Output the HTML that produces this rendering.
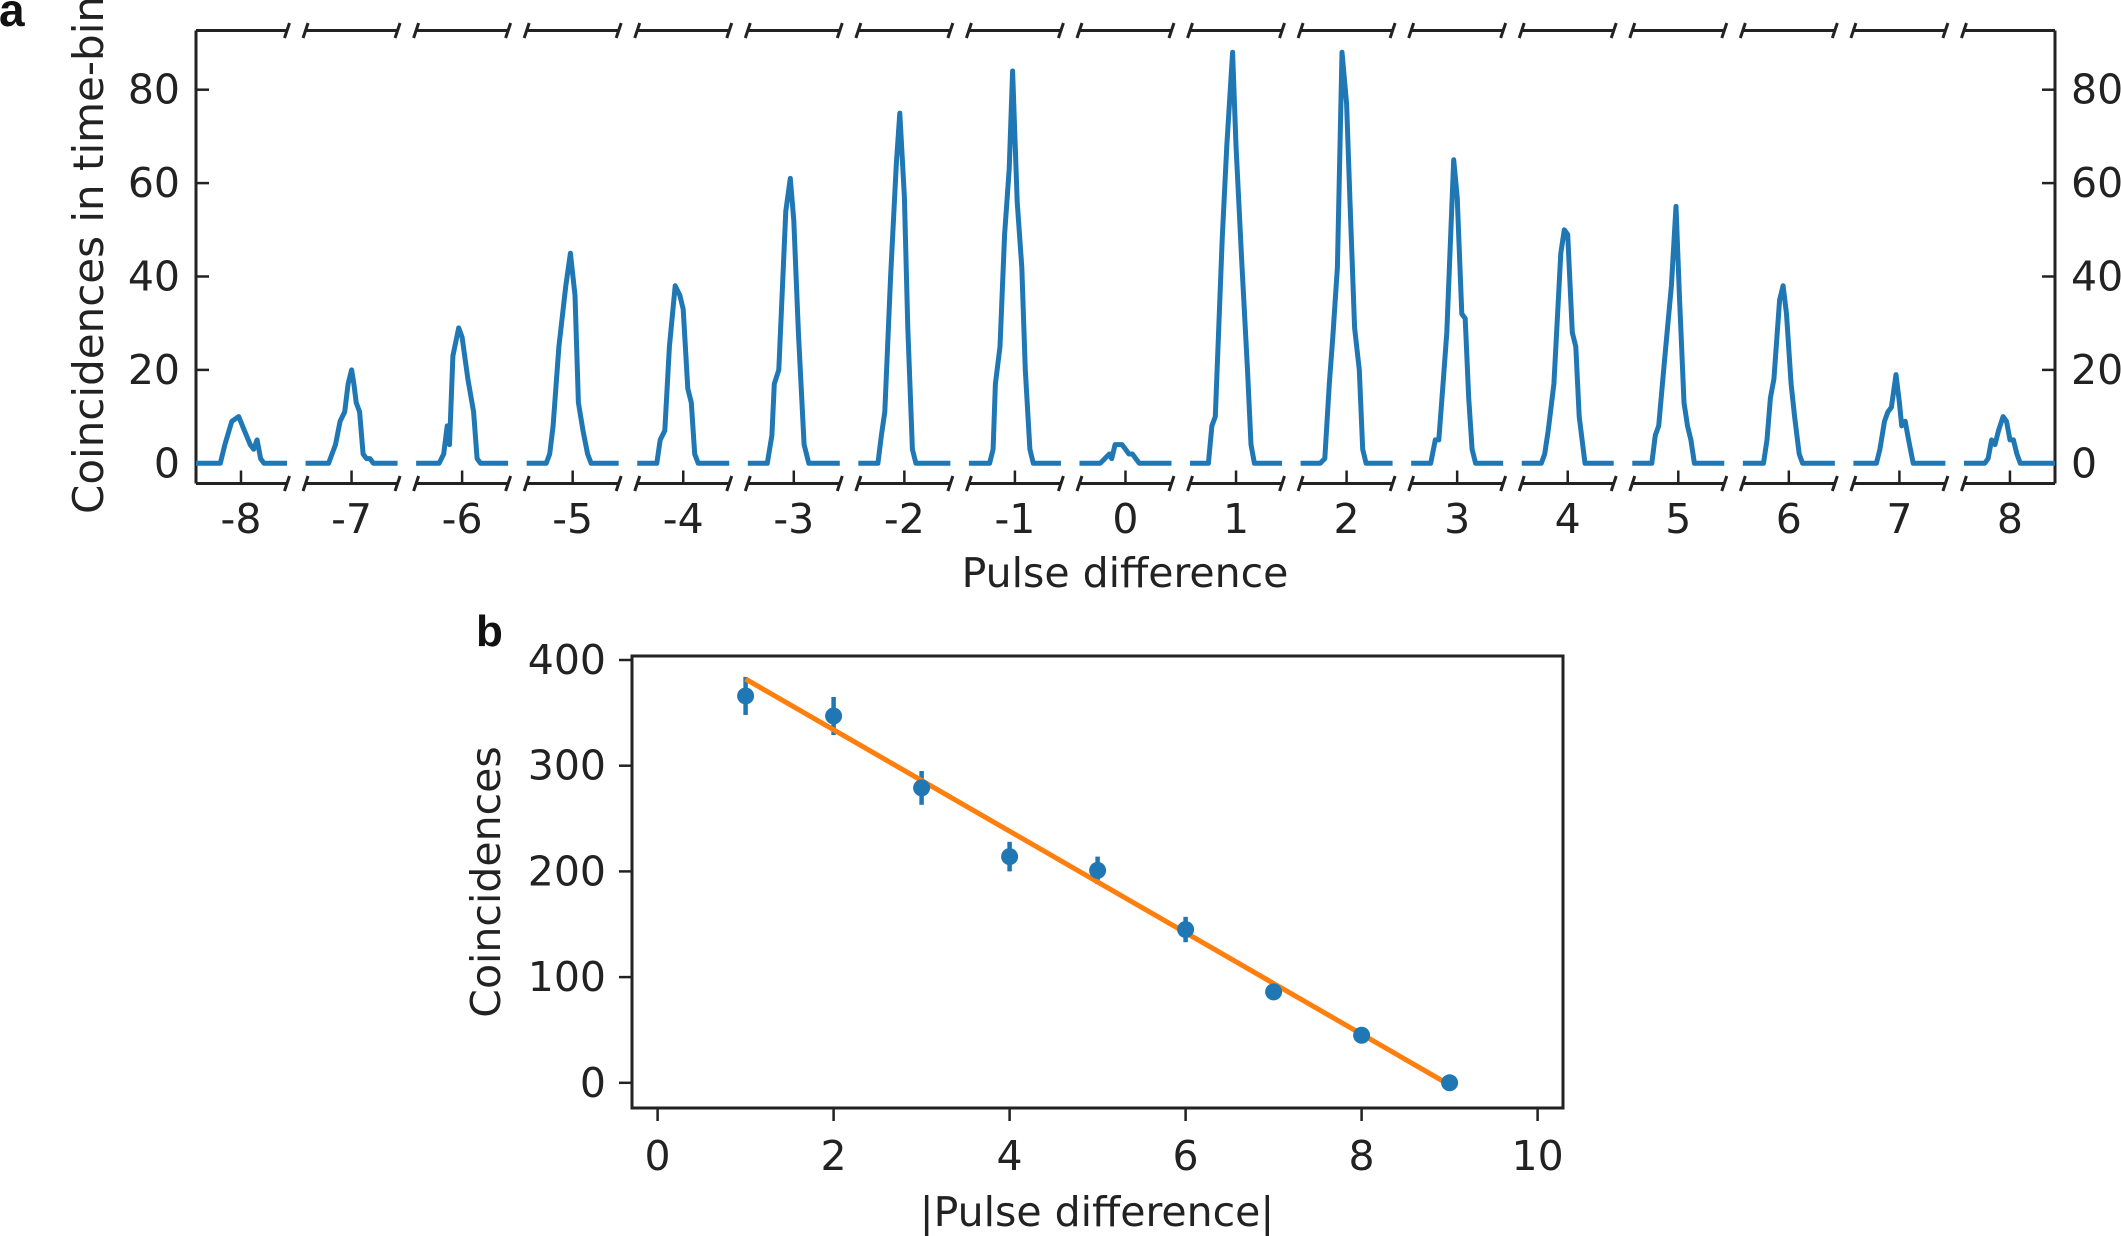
<!DOCTYPE html>
<html><head><meta charset="utf-8">
<style>
html,body{margin:0;padding:0;background:#fff;}
svg{display:block;font-family:"DejaVu Sans","Liberation Sans",sans-serif;}
</style></head>
<body>
<svg id="s" width="2121" height="1236" viewBox="0 0 2121 1236" xmlns="http://www.w3.org/2000/svg">
<rect width="2121" height="1236" fill="#fff"/>
<g id="a"></g>
<text x="-1" y="26" font-size="46" font-weight="bold" fill="#111" font-family="Liberation Sans, sans-serif">a</text>
<text transform="translate(103,255) rotate(-90)" text-anchor="middle" font-size="42" fill="#222">Coincidences in time-bin</text>
<text x="1125" y="587" text-anchor="middle" font-size="41" fill="#222">Pulse difference</text>
<!-- panel b -->
<text x="476" y="646" font-size="44" font-weight="bold" fill="#111" font-family="Liberation Sans, sans-serif">b</text>
<text transform="translate(500,882) rotate(-90)" text-anchor="middle" font-size="41" fill="#222">Coincidences</text>
<text x="1097" y="1226" text-anchor="middle" font-size="41" fill="#222">|Pulse difference|</text>
<g id="b"></g>
</svg>
<script>
(function(){
var NS="http://www.w3.org/2000/svg";
function el(p,t,a,txt){var e=document.createElementNS(NS,t);for(var k in a)e.setAttribute(k,a[k]);if(txt!==undefined)e.textContent=txt;p.appendChild(e);return e;}
var A=document.getElementById('a');
var L=196,R=2055,T=30.5,B=483.5;
function Y(v){return 463.3-v*4.67;}
function C(k){return 241+(k+8)*110.56;}
var stroke="#222";
el(A,'line',{x1:L,y1:T,x2:L,y2:B,stroke:stroke,'stroke-width':3});
el(A,'line',{x1:R,y1:T,x2:R,y2:B,stroke:stroke,'stroke-width':3});
for(var k=-8;k<=8;k++){
  var c=C(k),x0=c-46,x1=c+46;
  if(k==-8)x0=L; if(k==8)x1=R;
  [T,B].forEach(function(y){
    el(A,'line',{x1:x0,y1:y,x2:x1,y2:y,stroke:stroke,'stroke-width':3});
    if(k!=-8)el(A,'line',{x1:x0-2.5,y1:y+7.5,x2:x0+2.5,y2:y-7.5,stroke:stroke,'stroke-width':3});
    if(k!=8)el(A,'line',{x1:x1-2.5,y1:y+7.5,x2:x1+2.5,y2:y-7.5,stroke:stroke,'stroke-width':3});
  });
  el(A,'line',{x1:c,y1:B,x2:c,y2:B-13,stroke:stroke,'stroke-width':2.5});
  el(A,'text',{x:c,y:533,'text-anchor':'middle','font-size':41,fill:'#222'},String(k));
}
[0,20,40,60,80].forEach(function(v){
  var y=Y(v);
  el(A,'line',{x1:L,y1:y,x2:L+13,y2:y,stroke:stroke,'stroke-width':2.5});
  el(A,'line',{x1:R,y1:y,x2:R-13,y2:y,stroke:stroke,'stroke-width':2.5});
  el(A,'text',{x:180,y:y+14,'text-anchor':'end','font-size':41,fill:'#222'},String(v));
  el(A,'text',{x:2071,y:y+14,'text-anchor':'start','font-size':41,fill:'#222'},String(v));
});
var P={
'-8':[[-18,0],[-14,4],[-8,9],[-2,10],[3,7],[8,4],[11,3],[14,5],[17,1],[20,0]],
'-7':[[-20,0],[-14,4],[-10,9],[-6,11],[-3,17],[0,20],[2,17],[4,13],[7,11],[10,2],[13,1],[16,1],[19,0]],
'-6':[[-20,0],[-16,2],[-13,8],[-11,4],[-8,23],[-3,29],[0,27],[5,18],[10,11],[13,1],[16,0]],
'-5':[[-23,0],[-20,2],[-17,8],[-12,25],[-6,38],[-2,45],[2,36],[5,13],[9,7],[13,2],[16,0]],
'-4':[[-23,0],[-20,5],[-16,7],[-12,25],[-7,38],[-3,36],[0,33],[4,16],[7,13],[10,2],[13,0]],
'-3':[[-23,0],[-19,6],[-17,17],[-13,20],[-7,54],[-3,61],[0,52],[4,28],[9,4],[13,0]],
'-2':[[-23,0],[-20,6],[-17,11],[-12,40],[-7,64],[-4,75],[0,57],[3,29],[7,3],[10,0]],
'-1':[[-22,0],[-19,3],[-17,17],[-13,25],[-9,49],[-5,63],[-2,84],[2,56],[6,42],[9,20],[13,3],[16,0]],
'0':[[-22,0],[-18,1],[-14,2],[-12,1],[-9,4],[-3,4],[0,3],[3,2],[6,2],[9,1],[12,0]],
'1':[[-24,0],[-21,8],[-18,10],[-12,48],[-8,68],[-3,88],[0,68],[5,43],[10,20],[13,4],[16,0]],
'2':[[-23,0],[-19,1],[-15,17],[-12,27],[-8,42],[-4,88],[0,77],[3,56],[7,29],[11,20],[14,3],[17,0]],
'3':[[-23,0],[-19,5],[-16,5],[-12,18],[-9,28],[-3,65],[0,57],[4,32],[7,31],[10,14],[13,3],[16,0]],
'4':[[-23,0],[-20,2],[-17,7],[-12,17],[-6,45],[-3,50],[0,49],[4,28],[7,25],[10,10],[15,0]],
'5':[[-23,0],[-20,6],[-17,8],[-12,22],[-6,38],[-2,55],[1,36],[5,13],[8,8],[11,5],[14,0]],
'6':[[-22,0],[-19,5],[-16,14],[-13,18],[-8,35],[-5,38],[-2,32],[2,17],[5,10],[9,2],[12,0]],
'7':[[-20,0],[-17,3],[-13,9],[-10,11],[-7,12],[-3,19],[0,13],[2,8],[5,9],[8,5],[12,0]],
'8':[[-22,0],[-19,1],[-16,5],[-13,4],[-10,7],[-6,10],[-3,9],[0,5],[3,5],[6,2],[9,0]]
};
for(var k=-8;k<=8;k++){
  var c=C(k),x0=c-46,x1=c+46; if(k==-8)x0=L; if(k==8)x1=R;
  var d='M'+x0+','+Y(0);
  P[String(k)].forEach(function(p){d+=' L'+(c+p[0]*1.15).toFixed(1)+','+Y(p[1]).toFixed(1);});
  d+=' L'+x1+','+Y(0);
  el(A,'path',{d:d,fill:'none',stroke:'#1f77b4','stroke-width':5,'stroke-linejoin':'round'});
}
var Bg=document.getElementById('b');
var bl=632,br=1563,bt=656,bb=1108;
function X2(x){return 657.6+x*88;}
function Y2(v){return 1082.8-v*1.057;}
el(Bg,'rect',{x:bl,y:bt,width:br-bl,height:bb-bt,fill:'none',stroke:stroke,'stroke-width':3});
[0,100,200,300,400].forEach(function(v){var y=Y2(v);
  el(Bg,'line',{x1:bl,y1:y,x2:bl-13,y2:y,stroke:stroke,'stroke-width':2.5});
  el(Bg,'text',{x:606,y:y+14,'text-anchor':'end','font-size':41,fill:'#222'},String(v));});
[0,2,4,6,8,10].forEach(function(v){var x=X2(v);
  el(Bg,'line',{x1:x,y1:bb,x2:x,y2:bb+13,stroke:stroke,'stroke-width':2.5});
  el(Bg,'text',{x:x,y:1170,'text-anchor':'middle','font-size':41,fill:'#222'},String(v));});
var D=[[1,366,18],[2,347,18],[3,279,16],[4,214,14],[5,201,13],[6,145,12],[7,86,6],[8,45,4],[9,0,0]];
D.forEach(function(p){var x=X2(p[0]);
  if(p[2]>0)el(Bg,'line',{x1:x,y1:Y2(p[1]-p[2]),x2:x,y2:Y2(p[1]+p[2]),stroke:'#1f77b4','stroke-width':4.5});});
el(Bg,'line',{x1:X2(1),y1:Y2(382),x2:X2(9),y2:Y2(-2),stroke:'#ff7f0e','stroke-width':5});
D.forEach(function(p){el(Bg,'circle',{cx:X2(p[0]),cy:Y2(p[1]),r:8.5,fill:'#1f77b4'});});
})();
</script>
</body></html>
